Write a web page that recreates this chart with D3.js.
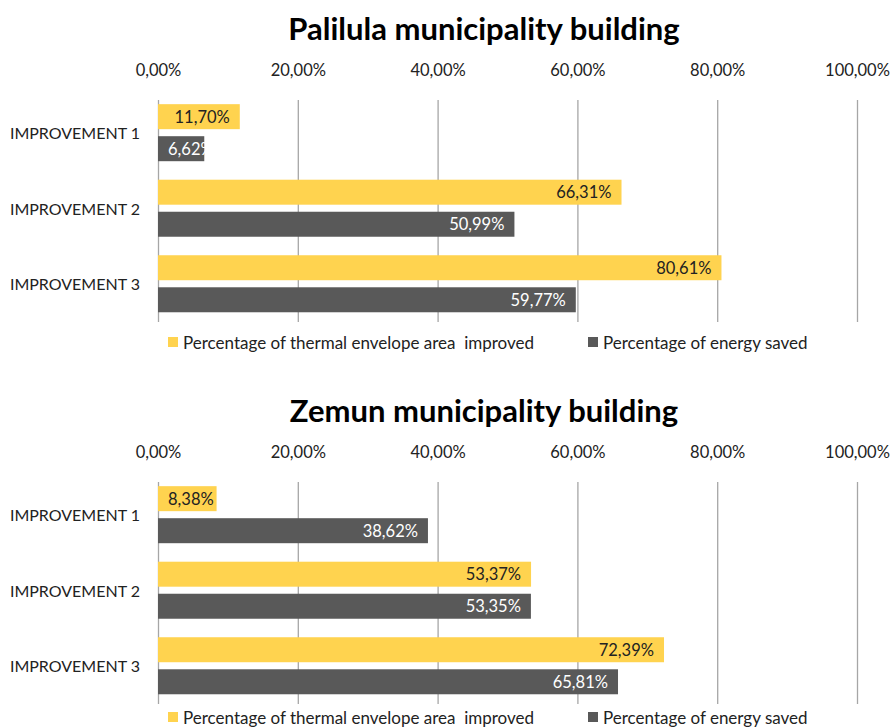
<!DOCTYPE html>
<html>
<head>
<meta charset="utf-8">
<script src="https://d3js.org/d3.v7.min.js"></script>
<style>
  body { margin: 0; background: #fff; }
  text { font-family: Lato, "Open Sans", sans-serif; white-space: pre; }
</style>
</head>
<body>
<svg width="890" height="728"></svg>
<script>
// data
var categories = ["IMPROVEMENT 1", "IMPROVEMENT 2", "IMPROVEMENT 3"];
var seriesNames = ["Percentage of thermal envelope area  improved", "Percentage of energy saved"];
var palilulaArea = [11.70, 66.31, 80.61];
var palilulaEnergy = [6.62, 50.99, 59.77];
var zemunArea = [8.38, 53.37, 72.39];
var zemunEnergy = [38.62, 53.35, 65.81];
var tickValues = [0, 20, 40, 60, 80, 100];

var colors = ["#ffd34f", "#595959"];
var labelColors = ["#222", "#fff"];

var svg = d3.select("svg");
var fmt = function(d) { return d.toFixed(2).replace(".", ",") + "%"; };

var x = d3.scaleLinear().domain([0, 100]).range([158, 857]);

function drawChart(top, title, area, energy, legendY) {
  var g = svg.append("g").attr("transform", "translate(0," + top + ")");
  var plotTop = 100, plotBottom = 322;

  g.append("text")
    .attr("x", 484).attr("y", 28)
    .attr("text-anchor", "middle").attr("dominant-baseline", "central")
    .attr("font-size", 31).attr("font-weight", "bold").attr("fill", "#000")
    .text(title);

  // tick labels
  var axis = g.append("g").attr("transform", "translate(0,70)")
    .call(d3.axisTop(x).tickValues(tickValues).tickFormat(fmt).tickSize(0));
  axis.select(".domain").remove();
  axis.selectAll("text").attr("font-size", 16.5).attr("fill", "#222")
    .attr("dy", "0.35em").attr("y", 0).style("font-family", "Lato, sans-serif");

  // gridlines
  var grid = g.append("g").attr("transform", "translate(0," + plotBottom + ")")
    .call(d3.axisBottom(x).tickValues(tickValues).tickFormat("").tickSize(-(plotBottom - plotTop)));
  grid.select(".domain").remove();
  grid.selectAll("line").attr("stroke", "#a6a6a6").attr("stroke-width", 1.3);

  var y = d3.scaleBand().domain(categories).range([plotTop, plotBottom])
    .paddingInner(0.245).paddingOuter(0.092).align(0.3);
  var ys = d3.scaleBand().domain([0, 1]).range([0, y.bandwidth()]).paddingInner(0.22);

  var rows = categories.map(function(c, i) { return [area[i], energy[i]]; });

  // category labels
  g.selectAll(".cat").data(categories).enter().append("text")
    .attr("x", 140).attr("y", function(d) { return y(d) + y.bandwidth() / 2; })
    .attr("text-anchor", "end").attr("dominant-baseline", "central")
    .attr("font-size", 16).attr("fill", "#222")
    .text(function(d) { return d; });

  var groups = g.selectAll(".grp").data(rows).enter().append("g")
    .attr("transform", function(d, i) { return "translate(0," + y(categories[i]) + ")"; });

  var cells = groups.selectAll("g").data(function(d) { return d; }).enter().append("g");

  cells.append("rect")
    .attr("x", x(0))
    .attr("y", function(d, j) { return ys(j); })
    .attr("width", function(d) { return x(d) - x(0); })
    .attr("height", ys.bandwidth())
    .attr("fill", function(d, j) { return colors[j]; });

  cells.append("text")
    .attr("y", function(d, j) { return ys(j) + ys.bandwidth() / 2; })
    .attr("dominant-baseline", "central").attr("text-anchor", "end")
    .attr("font-size", 16.5).attr("fill", function(d, j) { return labelColors[j]; })
    .text(function(d) { return fmt(d); })
    .attr("x", function(d) {
      var w = this.getComputedTextLength();
      return Math.max(x(d) - 10, x(0) + 10 + w);
    });

  // legend
  var leg = g.append("g").attr("transform", "translate(0," + legendY + ")");
  var legX = [168, 588];
  seriesNames.forEach(function(s, j) {
    leg.append("rect").attr("x", legX[j]).attr("y", -5).attr("width", 10).attr("height", 10)
      .attr("fill", colors[j]);
    leg.append("text").attr("x", legX[j] + 15).attr("y", 0)
      .attr("dominant-baseline", "central").attr("font-size", 17).attr("fill", "#222")
      .text(s);
  });
}

drawChart(0, "Palilula municipality building", palilulaArea, palilulaEnergy, 342);
drawChart(382, "Zemun municipality building", zemunArea, zemunEnergy, 335);
</script>
</body>
</html>
